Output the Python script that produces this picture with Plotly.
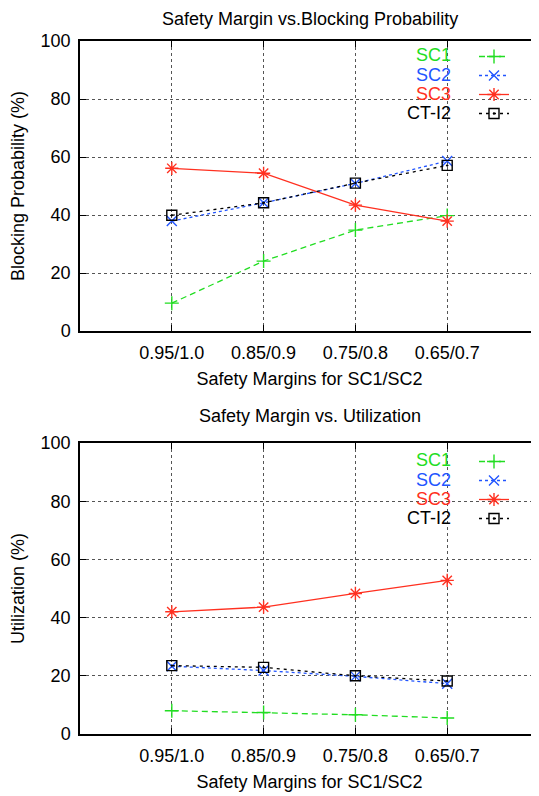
import plotly.graph_objects as go

categories = ["0.95/1.0", "0.85/0.9", "0.75/0.8", "0.65/0.7"]
xpos = [1, 2, 3, 4]
series_names = ["SC1", "SC2", "SC3", "CT-I2"]

block_sc1 = [9.6, 24.1, 34.8, 39.8]
block_sc2 = [37.9, 44.2, 50.9, 58.6]
block_sc3 = [56.1, 54.4, 43.4, 37.9]
block_ct = [39.9, 44.2, 51.0, 57.1]

util_sc1 = [8.0, 7.4, 6.6, 5.5]
util_sc2 = [23.3, 21.8, 19.8, 17.3]
util_sc3 = [42.0, 43.6, 48.3, 52.8]
util_ct = [23.5, 22.9, 20.0, 18.2]

colors = ["#22dd22", "#2255ff", "#ff3020", "#000000"]
dashes = ["6px,4px", "dot", "solid", "3px,4px"]
symbols = ["cross-thin-open", "x-thin-open", "asterisk-open", "square-open-dot"]
sizes = [10, 10, 11, 10]

FONT = "Liberation Sans, Arial, Helvetica, sans-serif"
FS = 18

fig = go.Figure()

def add_series(values, xa, ya, legend):
    for i, v in enumerate(values):
        fig.add_trace(go.Scatter(
            x=xpos, y=v, xaxis=xa, yaxis=ya, mode="lines+markers",
            name=" ", legend=legend,
            line=dict(color=colors[i], width=1.3, dash=dashes[i]),
            marker=dict(symbol=symbols[i], size=sizes[i], color=colors[i],
                        line=dict(color=colors[i], width=1.4)),
        ))

add_series([block_sc1, block_sc2, block_sc3, block_ct], "x", "y", "legend")
add_series([util_sc1, util_sc2, util_sc3, util_ct], "x2", "y2", "legend2")

# page has an 8px body margin: figure coords = screen coords - 8
OFF = 8
W, H = 539 - OFF, 796 - OFF
L = 80 - OFF
top1, bot1 = 41 - OFF, 331 - OFF
top2, bot2 = 443 - OFF, 734 - OFF

def py(px):
    return 1 - (px - OFF) / H

def pxx(px):
    return (px - OFF - L) / (W - L)

xcommon = dict(
    range=[0, 5], tickvals=xpos, ticktext=categories,
    showgrid=True, gridcolor="#555555", griddash="dot", gridwidth=1,
    showline=True, linecolor="black", linewidth=1.5, mirror="allticks",
    ticks="inside", ticklen=6, tickcolor="black", zeroline=False,
    tickfont=dict(family=FONT, size=FS, color="black"),
    ticklabelstandoff=5,
    title=dict(text="Safety Margins for SC1/SC2", font=dict(family=FONT, size=FS, color="black"), standoff=10),
    domain=[0, 1], automargin=False,
)
ycommon = dict(
    range=[0, 100], tickvals=[0, 20, 40, 60, 80, 100],
    showgrid=True, gridcolor="#555555", griddash="dot", gridwidth=1,
    showline=True, linecolor="black", linewidth=1.5, mirror="allticks",
    ticks="inside", ticklen=6, tickcolor="black", zeroline=False,
    tickfont=dict(family=FONT, size=FS, color="black"),
    ticklabelstandoff=4, automargin=False,
)

fig.update_layout(
    width=W, height=H,
    margin=dict(l=L, r=0, t=0, b=0),
    plot_bgcolor="white", paper_bgcolor="white",
    font=dict(family=FONT, size=FS, color="black"),
    xaxis=dict(**xcommon, anchor="y"),
    yaxis=dict(**ycommon, anchor="x", domain=[1 - bot1 / H, 1 - top1 / H],
               title=dict(text="Blocking Probability (%)", font=dict(family=FONT, size=FS), standoff=12)),
    xaxis2=dict(**xcommon, anchor="y2"),
    yaxis2=dict(**ycommon, anchor="x2", domain=[1 - bot2 / H, 1 - top2 / H],
                title=dict(text="Utilization (%)", font=dict(family=FONT, size=FS), standoff=12)),
    showlegend=True,
)

leg = dict(xref="paper", yref="paper", xanchor="right", yanchor="top",
           bgcolor="rgba(0,0,0,0)", font=dict(family=FONT, size=12),
           itemwidth=30, tracegroupgap=0)
fig.update_layout(
    legend=dict(**leg, x=pxx(523), y=py(42)),
    legend2=dict(**leg, x=pxx(523), y=py(447)),
)

# subplot titles
fig.add_annotation(text="Safety Margin vs.Blocking Probability", xref="paper", yref="paper",
                   x=0.5, y=1, xanchor="center", yanchor="top", showarrow=False,
                   borderpad=0, font=dict(family=FONT, size=FS))
fig.add_annotation(text="Safety Margin vs. Utilization", xref="paper", yref="paper",
                   x=0.5, y=py(416), xanchor="center", yanchor="middle", showarrow=False,
                   font=dict(family=FONT, size=FS))

# legend labels (text to the left of the samples)
label_rows1 = [55, 75, 94, 113]
label_rows2 = [460, 480, 499, 518]
for rows in (label_rows1, label_rows2):
    for i, name in enumerate(series_names):
        fig.add_annotation(text=name, xref="paper", yref="paper",
                           x=pxx(453), y=py(rows[i]), xanchor="right", yanchor="middle",
                           showarrow=False,
                           font=dict(family=FONT, size=FS, color=colors[i]))

fig.write_html("out.html")
